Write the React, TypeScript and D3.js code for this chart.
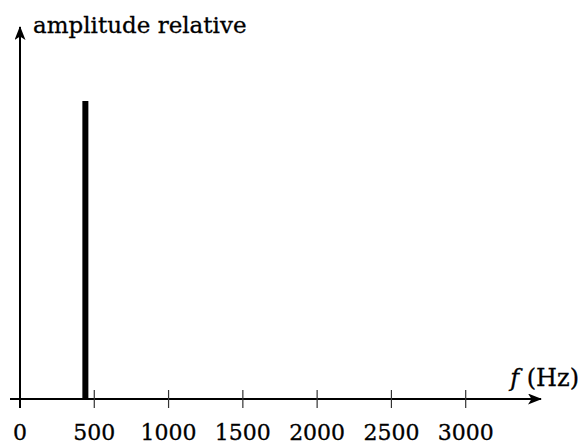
import { useRef, useEffect } from "react";
import * as d3 from "d3";

// spectrum: one line at 440 Hz
const frequencies = [440];
const amplitudes = [1];
const tickValues = [0, 500, 1000, 1500, 2000, 2500, 3000];

const width = 582;
const height = 444;

const App = () => {
  const ref = useRef<SVGSVGElement>(null);

  useEffect(() => {
    const svg = d3.select(ref.current);
    svg.selectAll("*").remove();

    const x = d3.scaleLinear().domain([0, 3000]).range([20, 465.7]);
    const y = d3.scaleLinear().domain([0, 1]).range([399, 101]);
    const font = "'DejaVu Serif', serif";

    const defs = svg.append("defs");
    defs
      .append("marker")
      .attr("id", "arrow")
      .attr("viewBox", "0 0 14 11")
      .attr("refX", 13)
      .attr("refY", 5.5)
      .attr("markerWidth", 14)
      .attr("markerHeight", 11)
      .attr("markerUnits", "userSpaceOnUse")
      .attr("orient", "auto")
      .append("path")
      .attr("d", "M0,0 L14,5.5 L0,11 L3.5,5.5 Z")
      .attr("fill", "#000");

    // x axis
    svg
      .append("line")
      .attr("x1", 10)
      .attr("x2", 541)
      .attr("y1", y(0))
      .attr("y2", y(0))
      .attr("stroke", "#000")
      .attr("stroke-width", 2)
      .attr("marker-end", "url(#arrow)");

    // y axis
    svg
      .append("line")
      .attr("x1", x(0))
      .attr("x2", x(0))
      .attr("y1", 408)
      .attr("y2", 27)
      .attr("stroke", "#000")
      .attr("stroke-width", 2)
      .attr("marker-end", "url(#arrow)");

    // ticks
    svg
      .selectAll("line.tick")
      .data(tickValues.filter((d) => d > 0))
      .enter()
      .append("line")
      .attr("class", "tick")
      .attr("x1", (d) => x(d))
      .attr("x2", (d) => x(d))
      .attr("y1", 390)
      .attr("y2", 408)
      .attr("stroke", "#333")
      .attr("stroke-width", 1.2);

    svg
      .selectAll("text.tick")
      .data(tickValues)
      .enter()
      .append("text")
      .attr("class", "tick")
      .attr("x", (d) => x(d))
      .attr("y", 440)
      .attr("text-anchor", "middle")
      .attr("font-family", font)
      .attr("font-size", 22)
      .attr("fill", "#000")
      .attr("stroke", "#000")
      .attr("stroke-width", 0.3)
      .text((d) => d);

    // spectral line
    svg
      .selectAll("rect.bar")
      .data(frequencies)
      .enter()
      .append("rect")
      .attr("class", "bar")
      .attr("x", (d) => x(d) - 3)
      .attr("width", 6)
      .attr("y", (d, i) => y(amplitudes[i]))
      .attr("height", (d, i) => y(0) - y(amplitudes[i]))
      .attr("fill", "#000");

    // axis titles
    svg
      .append("text")
      .attr("x", 33)
      .attr("y", 33)
      .attr("font-family", font)
      .attr("font-size", 23)
      .attr("fill", "#000")
      .attr("stroke", "#000")
      .attr("stroke-width", 0.3)
      .text("amplitude relative");

    const xt = svg
      .append("text")
      .attr("x", 579)
      .attr("y", 386)
      .attr("text-anchor", "end")
      .attr("font-family", font)
      .attr("font-size", 24)
      .attr("fill", "#000")
      .attr("stroke", "#000")
      .attr("stroke-width", 0.3);
    xt.append("tspan").attr("font-style", "italic").text("f");
    xt.append("tspan").text(" (Hz)");
  }, []);

  return (
    <svg
      ref={ref}
      width={width}
      height={height}
      style={{ position: "absolute", left: 0, top: 0, background: "#fff" }}
    />
  );
};

export default App;
